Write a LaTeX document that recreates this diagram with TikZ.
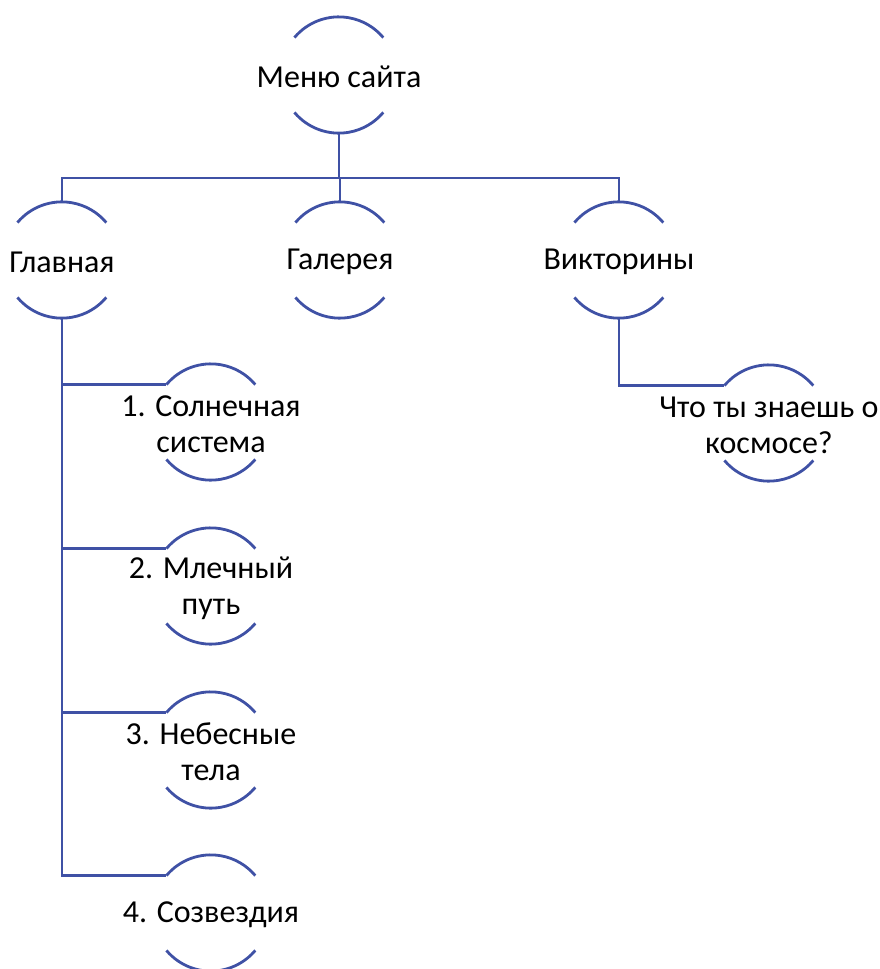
\documentclass[tikz,border=0pt]{standalone}
\usepackage{fontspec}
\setmainfont{Carlito}
\usepackage{tikz}
\usetikzlibrary{calc}

\definecolor{linkblue}{RGB}{63,81,165}
\newcommand\halfrings[1]{%
  \draw[conn] (#1.140) arc[start angle=140, end angle=40, radius=58pt];
  \draw[conn] (#1.220) arc[start angle=220, end angle=320, radius=58pt];}

\begin{document}
\begin{tikzpicture}[x=1pt, y=-1pt,
    conn/.style = {draw=linkblue, line width=2.8pt},
    main/.style = {circle, minimum size=116pt, inner sep=0pt,
      label={[align=center, yshift=-2pt, font=\fontsize{32}{36}\selectfont]center:#1}}]
    \useasboundingbox (0,0) rectangle (879,969);

    \node[main={Меню сайта}] (menu) at (339,75) {};
    \node[main={Главная}] (glav) at (62,260) {};
    \node[main={Галерея}] (gal) at (340,260) {};
    \node[main={Викторины}] (vikt) at (619,260) {};
    \node[main={1. Солнечная\\система}] (sol) at (211,422) {};
    \node[main={2. Млечный\\путь}] (mlech) at (211,586) {};
    \node[main={3. Небесные\\тела}] (tela) at (211,750) {};
    \node[main={4. Созвездия}] (sozv) at (211,913) {};
    \node[main={Что ты знаешь о\\космосе?}] (kosm) at (769,423) {};

    \foreach \n in {menu,glav,gal,vikt,sol,mlech,tela,sozv,kosm}
        {\halfrings{\n}}

    \coordinate (bus) at (339,178);
    \draw[conn] (menu.south) -- (bus);
    \draw[conn] (glav.north) |- (bus) -| (vikt.north);
    \draw[conn] (gal.north |- bus) -- (gal.north);

    \draw[conn] (glav.south) |- (sol.140);
    \draw[conn] (glav.south) |- (mlech.140);
    \draw[conn] (glav.south) |- (tela.140);
    \draw[conn] (glav.south) |- (sozv.140);
    \draw[conn] (vikt.south) |- (kosm.140);
\end{tikzpicture}
\end{document}
